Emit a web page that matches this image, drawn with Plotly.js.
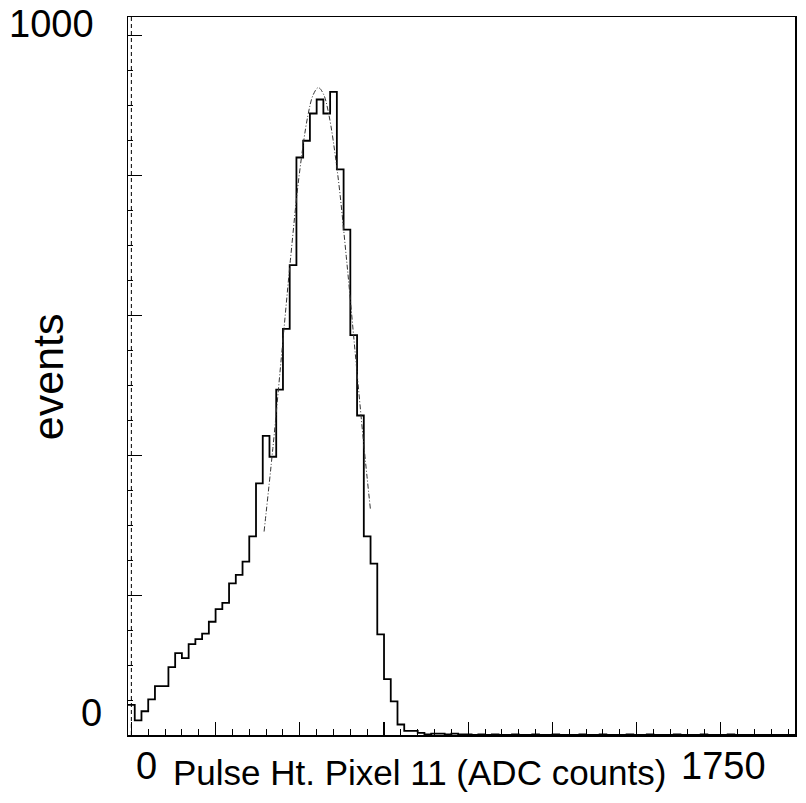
<!DOCTYPE html>
<html>
<head>
<meta charset="utf-8">
<script src="https://cdn.plot.ly/plotly-3.0.1.min.js"></script>
<style>html,body{margin:0;padding:0;background:#fff;}#chart{width:806px;height:803px;}</style>
</head>
<body>
<div id="chart"></div>
<script>
// Histogram: bins of 20 ADC counts, first bin centred on 0
var binStart = -10;
var binWidth = 20;
var counts = [43, 21, 34, 51, 70, 70, 97, 117, 110, 130,
              137, 145, 162, 180, 189, 217, 229, 248, 284, 360,
              428, 398, 494, 581, 672, 826, 850, 889, 909, 889,
              920, 809, 723, 572, 457, 284, 245, 144, 80, 48,
              15, 6, 6, 3, 1, 2, 2, 1, 2, 1,
              1, 0, 1, 0, 1, 0, 0, 1, 0, 0,
              1, 0, 0, 1, 0, 0, 0, 1, 0, 0,
              1, 0, 0, 0, 1, 0, 0, 1, 0, 0,
              0, 1, 0, 0, 0, 1, 0, 0, 0, 1,
              0, 0, 0, 0, 0, 0, 0, 0, 0];
// Gaussian fit curve
var fitX = [394, 420, 446, 472, 498, 524, 540, 555, 570, 586, 612, 638, 664, 690, 710];
var fitY = [291, 410, 544, 679, 800, 886, 916, 926, 917, 888, 804, 684, 549, 415, 321];
// Tick labels
var yLabelTop = "1000", yLabelBottom = "0";
var xLabelLeft = "0", xLabelRight = "1750";
var xTitle = "Pulse Ht. Pixel 11 (ADC counts)";
var yTitle = "events";

var edges = [], stepY = [];
for (var i = 0; i < counts.length; i++) { edges.push(binStart + i * binWidth); stepY.push(counts[i]); }
edges.push(binStart + counts.length * binWidth); stepY.push(counts[counts.length - 1]);

var FONT = "Liberation Sans, Arial, Helvetica, sans-serif";
var traces = [
  {x: edges, y: stepY, type: 'scatter', mode: 'lines', line: {shape: 'hv', color: '#000', width: 1.8}, hoverinfo: 'skip'},
  {x: fitX, y: fitY, type: 'scatter', mode: 'lines', line: {shape: 'spline', color: '#333', width: 1, dash: '5px,2px,1px,2px'}, hoverinfo: 'skip'}
];
function ann(text, x, y, size, angle) {
  return {text: text, x: x, y: y, xref: 'paper', yref: 'paper', showarrow: false, xanchor: 'center', yanchor: 'middle',
          textangle: angle || 0, font: {family: FONT, size: size, color: '#000'}};
}
var layout = {
  width: 806, height: 803,
  margin: {l: 128, r: 11, t: 17, b: 68, pad: 0},
  paper_bgcolor: '#fff', plot_bgcolor: '#fff',
  showlegend: false,
  xaxis: {range: [-10, 1970], showgrid: false, zeroline: false, showline: true, linecolor: '#000', linewidth: 1.5, mirror: true,
          ticks: 'inside', tick0: 0, dtick: 250, ticklen: 13, tickwidth: 1.2, tickcolor: '#000', showticklabels: false,
          minor: {ticks: 'inside', tick0: 0, dtick: 50, ticklen: 6, tickwidth: 1, tickcolor: '#000'}},
  yaxis: {range: [0, 1027], showgrid: false, zeroline: false, showline: true, linecolor: '#000', linewidth: 1.5, mirror: true,
          ticks: 'inside', tick0: 0, dtick: 200, ticklen: 14, tickwidth: 1.2, tickcolor: '#000', showticklabels: false,
          minor: {ticks: 'inside', tick0: 0, dtick: 50, ticklen: 5, tickwidth: 1, tickcolor: '#000'}},
  shapes: [{type: 'line', xref: 'x', yref: 'paper', x0: 0, x1: 0, y0: 0, y1: 1, line: {color: '#000', width: 1, dash: '4px,3px'}}],
  annotations: [
    ann(yLabelTop, -0.1154, 0.99, 38),
    ann(yLabelBottom, -0.0544, 0.0313, 38),
    ann(xLabelLeft, 0.028, -0.0429, 38),
    ann(xLabelRight, 0.8925, -0.0429, 38),
    ann(xTitle, 0.4363, -0.0525, 35),
    ann(yTitle, -0.1207, 0.4991, 43, -90)
  ]
};
Plotly.newPlot('chart', traces, layout, {staticPlot: true, displayModeBar: false});
</script>
</body>
</html>
